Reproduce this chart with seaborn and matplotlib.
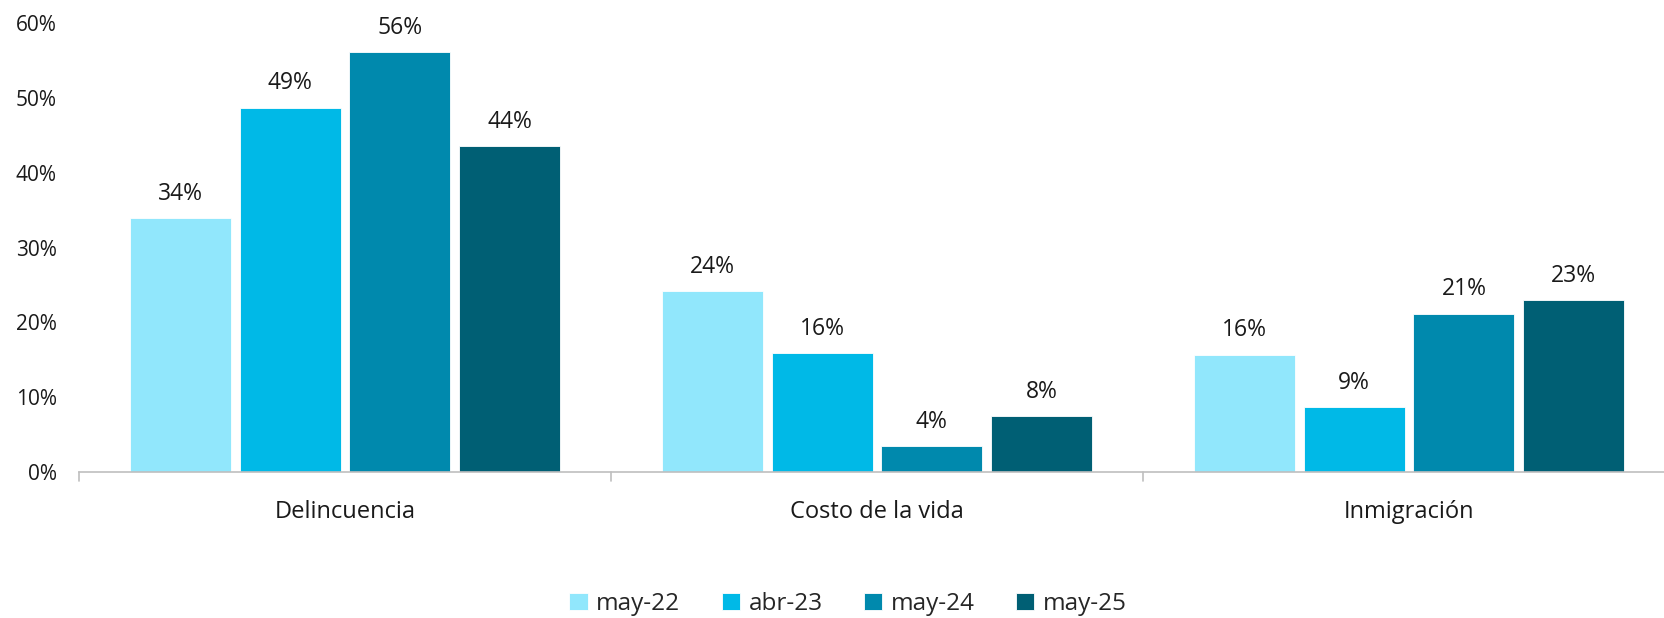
import numpy as np
import pandas as pd
import matplotlib
matplotlib.use("Agg")
import matplotlib.pyplot as plt
import seaborn as sns

# data (percent)
categories = ["Delincuencia", "Costo de la vida", "Inmigración"]
periods = ["may-22", "abr-23", "may-24", "may-25"]
may22 = [33.9, 24.2, 15.7]
abr23 = [48.7, 15.9, 8.7]
may24 = [56.1, 3.5, 21.2]
may25 = [43.5, 7.5, 23.0]
colors = ["#91E7FC", "#00B9E7", "#0089AD", "#005F74"]

rows = []
for p, vals in zip(periods, [may22, abr23, may24, may25]):
    for c, v in zip(categories, vals):
        rows.append({"cat": c, "period": p, "value": v})
df = pd.DataFrame(rows)

sns.set_theme(style="white")
plt.rcParams["font.family"] = ["Open Sans", "DejaVu Sans"]

fig = plt.figure(figsize=(16.65, 6.18), dpi=100)
ax = fig.add_axes([79 / 1665, 1 - 472.3 / 618, 1596 / 1665, (472.3 - 22.9) / 618])

sns.barplot(data=df, x="cat", y="value", hue="period", palette=colors,
            order=categories, hue_order=periods, width=0.826, gap=0.08,
            saturation=1, edgecolor="white", linewidth=0.6, ax=ax, legend=True)

for cont in ax.containers:
    labels = ["%d%%" % int(b.get_height() + 0.5) for b in cont]
    ax.bar_label(cont, labels=labels, padding=9, fontsize=16.5, color="#1a1a1a")

ax.set_ylim(0, 60)
ax.set_xlim(-0.5, 2.5)
ax.set_yticks(np.arange(0, 61, 10))
ax.set_yticklabels(["%d%%" % t for t in range(0, 61, 10)], fontsize=15, color="#1a1a1a")
ax.tick_params(axis="y", length=0, pad=16)
ax.set_xticks([0, 1, 2])
ax.set_xticklabels(categories, fontsize=17, color="#1a1a1a")
ax.tick_params(axis="x", length=0, pad=20)
ax.set_xlabel("")
ax.set_ylabel("")

# category boundary ticks like the reference
for xb in [-0.5, 0.5, 1.5]:
    ax.plot([xb, xb], [0, -1.2], color="#BFBFBF", lw=1.2, clip_on=False)

for s in ["left", "right", "top"]:
    ax.spines[s].set_visible(False)
ax.spines["bottom"].set_color("#BFBFBF")
ax.spines["bottom"].set_linewidth(1.2)

handles, labs = ax.get_legend_handles_labels()
ax.legend_.remove()
fig.legend(handles, labs, loc="center", bbox_to_anchor=(848 / 1665, 1 - 604 / 618),
           ncol=4, frameon=False, fontsize=17.5, handlelength=0.75, handleheight=0.75,
           handletextpad=0.35, columnspacing=1.7)

fig.savefig("out.png", dpi=100)
